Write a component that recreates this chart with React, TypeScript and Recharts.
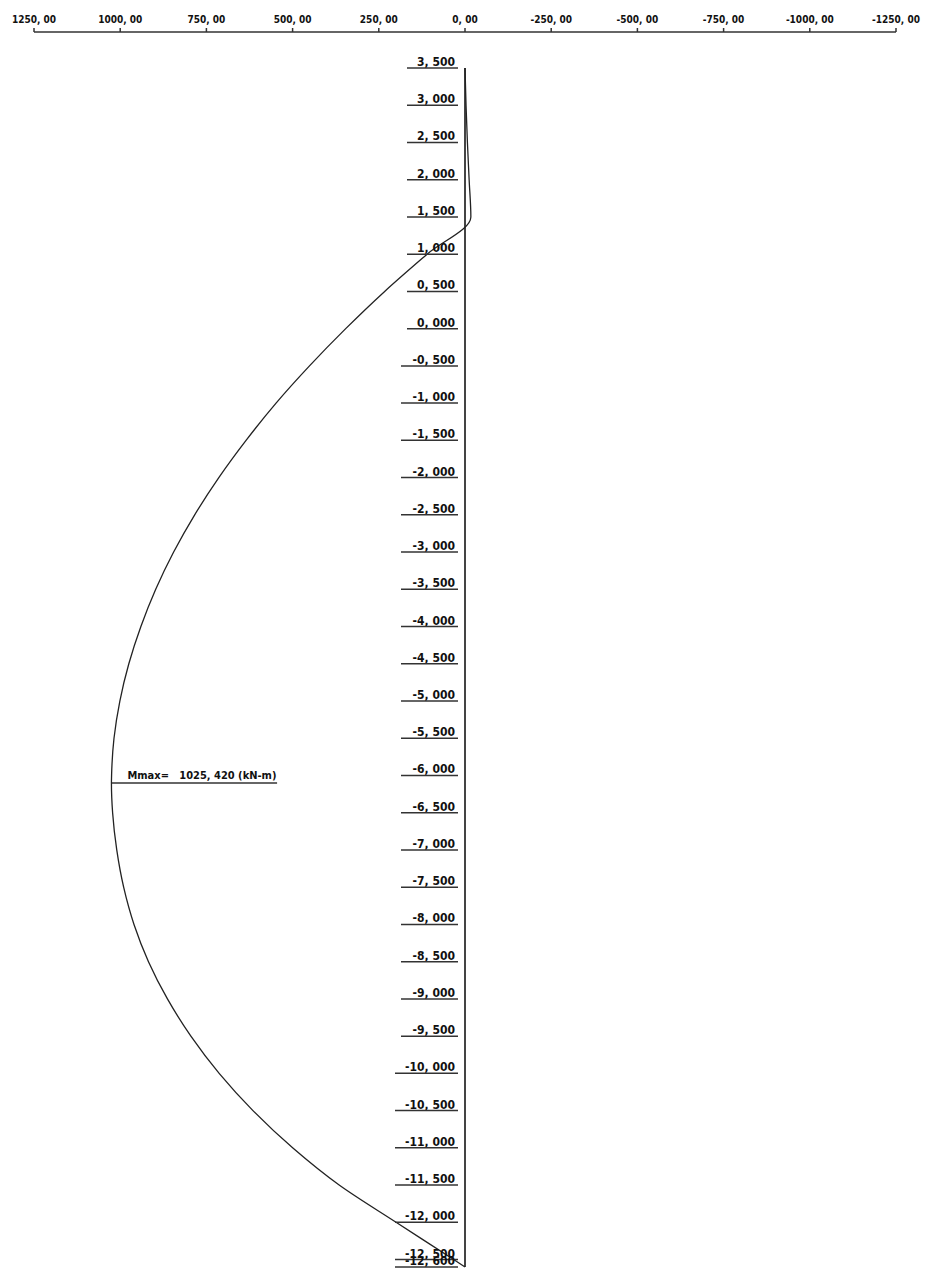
import { ComposedChart, Line, XAxis, YAxis, ReferenceLine } from "recharts";

// depth (m) and bending moment (kN-m)
const curveDepth = [
  3.5, 3.0, 2.5, 2.0, 1.5, 1.0, 0.5, 0.0, -0.5, -1.0, -1.5, -2.0, -2.5, -3.0, -3.5, -4.0, -4.5, -5.0,
  -5.5, -6.0, -6.1, -6.5, -7.0, -7.5, -8.0, -8.5, -9.0, -9.5, -10.0, -10.5, -11.0, -11.5, -12.0, -12.5, -12.6,
];
const curveMoment = [
  0, -3, -7, -12, -17, 110, 233, 346, 451, 548, 635, 714, 784, 845, 897, 940, 975, 1001,
  1018, 1025, 1025.42, 1022, 1010, 990, 960, 918, 863, 795, 713, 615, 500, 365, 200, 33, 0,
];

const depthLabels = [
  3.5, 3.0, 2.5, 2.0, 1.5, 1.0, 0.5, 0.0, -0.5, -1.0, -1.5, -2.0, -2.5, -3.0, -3.5, -4.0, -4.5, -5.0,
  -5.5, -6.0, -6.5, -7.0, -7.5, -8.0, -8.5, -9.0, -9.5, -10.0, -10.5, -11.0, -11.5, -12.0, -12.5, -12.6,
];
const momentTicks = [1250, 1000, 750, 500, 250, 0, -250, -500, -750, -1000, -1250];

const mmaxValue = 1025.42;
const mmaxDepth = -6.1;
const mmaxLineEnd = 545;
const pileTop = 3.5;
const pileBottom = -12.6;

const curveData = curveDepth.map((z, i) => ({ z, m: curveMoment[i] }));
const labelData = depthLabels.map((z) => ({ z, m: 0 }));
const mmaxData = [{ z: mmaxDepth, m: mmaxValue }];

const font = "'Liberation Sans Narrow', 'DejaVu Sans Condensed', sans-serif";

const fmtMoment = (v: number) => v.toFixed(2).replace(".", ", ");
const fmtDepth = (v: number) => v.toFixed(3).replace(".", ", ");

const DepthLabel = (props: any) => {
  const { cx, cy, payload, index } = props;
  const text = fmtDepth(payload.z);
  const w = text.length * 6 + 15;
  return (
    <g key={`d-${index}`}>
      <text x={cx - 10} y={cy - 2} textAnchor="end" fontSize={12} fontWeight="bold" fontFamily={font} fill="#111">
        {text}
      </text>
      <line x1={cx - 7 - w} x2={cx - 7} y1={cy} y2={cy} stroke="#333" strokeWidth={1.5} />
    </g>
  );
};

const MmaxLabel = (props: any) => {
  const { cx, cy, index } = props;
  return (
    <text key={`mm-${index}`} x={cx + 16} y={cy - 4} fontSize={11} fontWeight="bold" fontFamily={font} fill="#111" xmlSpace="preserve">
      {`Mmax=   ${mmaxValue.toFixed(3).replace(".", ", ")} (kN-m)`}
    </text>
  );
};

export default function App() {
  return (
    <div style={{ position: "absolute", left: 0, top: 0, background: "#fff" }}>
      <ComposedChart
        width={926}
        height={1268}
        layout="vertical"
        data={curveData}
        margin={{ top: 2, right: 30, bottom: 1, left: 34 }}
      >
        <XAxis
          type="number"
          dataKey="m"
          orientation="top"
          domain={[-1250, 1250]}
          reversed
          ticks={momentTicks}
          interval={0}
          height={30}
          tickSize={4}
          tickMargin={5}
          tickFormatter={fmtMoment}
          stroke="#333"
          strokeWidth={1.5}
          tick={{ fontSize: 10, fontWeight: "bold", fontFamily: font, fill: "#111" }}
        />
        <YAxis
          type="number"
          dataKey="z"
          domain={[pileBottom, pileTop]}
          reversed
          padding={{ top: 36, bottom: 0 }}
          hide
        />
        <ReferenceLine
          segment={[
            { x: 0, y: pileTop },
            { x: 0, y: pileBottom },
          ]}
          stroke="#444"
          strokeWidth={2}
        />
        <ReferenceLine
          segment={[
            { x: mmaxValue, y: mmaxDepth },
            { x: mmaxLineEnd, y: mmaxDepth },
          ]}
          stroke="#333"
          strokeWidth={1.5}
        />
        <Line
          data={curveData}
          dataKey="m"
          type="monotone"
          stroke="#222"
          strokeWidth={1.3}
          dot={false}
          isAnimationActive={false}
        />
        <Line
          data={labelData}
          dataKey="m"
          stroke="none"
          dot={DepthLabel}
          activeDot={false}
          isAnimationActive={false}
        />
        <Line
          data={mmaxData}
          dataKey="m"
          stroke="none"
          dot={MmaxLabel}
          activeDot={false}
          isAnimationActive={false}
        />
      </ComposedChart>
    </div>
  );
}
